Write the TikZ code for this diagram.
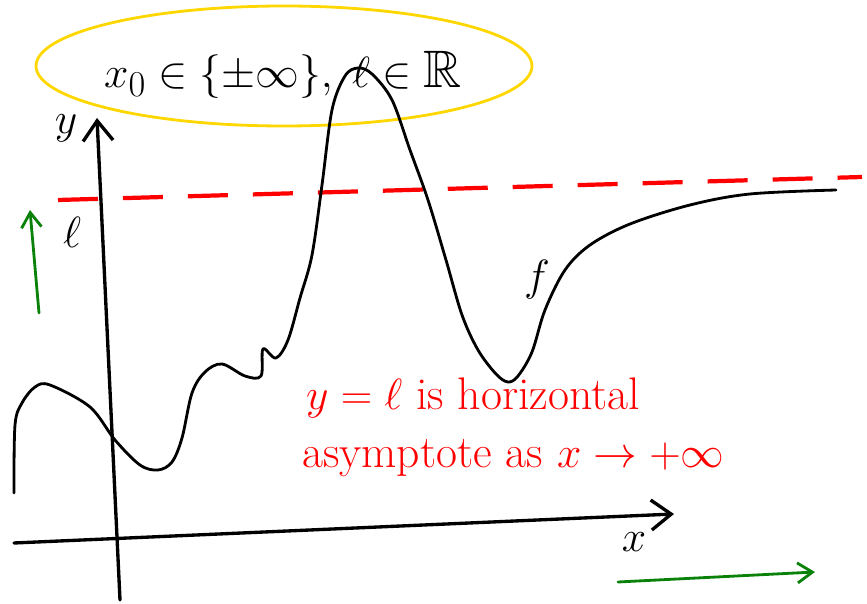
\documentclass[tikz,border=0pt]{standalone}
\usepackage{amssymb}
\usetikzlibrary{arrows.meta}
\definecolor{markYellow}{RGB}{255,215,0}
\definecolor{penGreen}{RGB}{10,130,10}
\definecolor{penRed}{RGB}{255,0,0}
\tikzset{
  pen/.style={line width=1.6pt, line cap=round, line join=round},
  axis/.style={pen, line width=1.9pt, -{Straight Barb[length=4mm, width=6mm]}},
  hint/.style={pen, penGreen, -{Straight Barb[length=3mm, width=4mm]}},
  big/.style={font=\fontsize{30}{36}\selectfont},
  note/.style={penRed, anchor=base west, font=\fontsize{26}{30}\selectfont}
}
\begin{document}
\begin{tikzpicture}[x=0.02cm, y=-0.02cm]
  \useasboundingbox (0,0) rectangle (867,604);
  % Condition in the yellow loop
  \draw[markYellow, line width=1.6pt] (284,66) ellipse [x radius=248, y radius=60];
  \node[big, anchor=base west] (cond) at (98,88) {$x_0 \in \{\pm\infty\},\;\ell \in \mathbb{R}$};
  % Axes
  \draw[axis] (120,600) -- (97,118);
  \draw[axis] (14,543) -- (674,514);
  \node[big] (ylab) at (66,128) {$y$};
  \node[big] (xlab) at (634,542) {$x$};
  % Asymptote y = l
  \draw[penRed, line width=2.4pt, dash pattern=on 0.8cm off 0.5cm] (58,200) -- (862,177);
  \node[big] (llab) at (72,232) {$\ell$};
  % Graph of f
  \draw[pen] plot[smooth, tension=0.55] coordinates {
    (14,493) (15,425) (22,403) (35,387) (50,385) (90,407) (115,440)
    (140,465) (158,470) (172,462) (182,438) (192,393) (205,372) (222,364)
    (245,376) (261,376) (263,349) (276,358) (288,340) (300,298) (312,255)
    (322,185) (332,110) (345,76) (358,68) (372,74) (392,100) (410,150)
    (428,200) (446,260) (462,315) (478,350) (496,374) (508,382) (518,376)
    (532,352) (545,310) (565,270) (590,245) (630,224) (690,205) (750,194)
    (836,190)};
  \node[font=\fontsize{26}{30}\selectfont] (flab) at (537,280) {$f$};
  % Statement
  \node[note] (asyA) at (300,410) {$y=\ell$ is horizontal};
  \node[note] (asyB) at (296,468) {asymptote as $x\to+\infty$};
  % Direction hints
  \coordinate (gA) at (39,313);
  \coordinate (gB) at (30,210);
  \coordinate (gC) at (618,582);
  \coordinate (gD) at (815,572);
  \draw[hint] (gA) -- (gB);
  \draw[hint] (gC) -- (gD);
\end{tikzpicture}
\end{document}
